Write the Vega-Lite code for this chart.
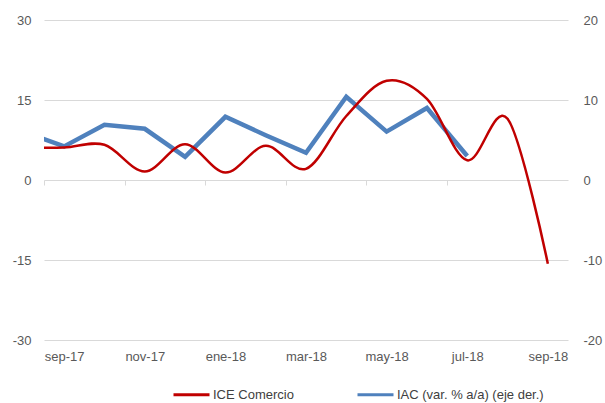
{
  "$schema": "https://vega.github.io/schema/vega-lite/v6.json",
  "width": 524,
  "height": 320,
  "autosize": "none",
  "padding": {"left": 44, "top": 20, "right": 37, "bottom": 63},
  "background": "white",
  "config": {
    "view": {"stroke": null},
    "font": "Liberation Sans",
    "axis": {"labelFont": "Liberation Sans", "labelFontSize": 13, "labelColor": "#595959"}
  },
  "data": {
    "values": [
      {"i": -1, "ice": 6.1, "iac": 6.0},
      {"i": 0, "ice": 6.1, "iac": 4.2},
      {"i": 1, "ice": 6.6, "iac": 6.9},
      {"i": 2, "ice": 1.6, "iac": 6.4},
      {"i": 3, "ice": 6.7, "iac": 2.9},
      {"i": 4, "ice": 1.4, "iac": 7.9},
      {"i": 5, "ice": 6.4, "iac": 5.6},
      {"i": 6, "ice": 2.1, "iac": 3.4},
      {"i": 7, "ice": 12.0, "iac": 10.4},
      {"i": 8, "ice": 18.6, "iac": 6.05},
      {"i": 9, "ice": 15.2, "iac": 9.0},
      {"i": 10, "ice": 3.7, "iac": 3.0},
      {"i": 11, "ice": 11.5, "iac": null},
      {"i": 12, "ice": -15.7, "iac": null}
    ]
  },
  "layer": [
    {
      "mark": {"type": "line", "clip": true, "strokeWidth": 4.5, "strokeJoin": "miter"},
      "encoding": {
        "x": {
          "field": "i", "type": "quantitative",
          "scale": {"domain": [-0.5, 12.5], "nice": false, "zero": false},
          "axis": {
            "orient": "bottom", "offset": -160, "title": null, "labels": false,
            "domain": false, "grid": false,
            "values": [-0.5, 1.5, 3.5, 5.5, 7.5, 9.5, 11.5],
            "ticks": true, "tickSize": 5, "tickColor": "#d9d9d9", "tickWidth": 1
          }
        },
        "y": {
          "field": "iac", "type": "quantitative",
          "scale": {"domain": [-20, 20], "nice": false, "zero": false},
          "axis": {
            "orient": "right", "title": null, "values": [-20, -10, 0, 10, 20],
            "labelExpr": "'' + datum.value",
            "grid": false, "domain": false, "ticks": false, "labelPadding": 15
          }
        },
        "color": {"datum": "IAC (var. % a/a) (eje der.)"}
      }
    },
    {
      "mark": {"type": "line", "clip": true, "strokeWidth": 2.5, "interpolate": "cardinal"},
      "encoding": {
        "x": {
          "field": "i", "type": "quantitative",
          "scale": {"domain": [-0.5, 12.5], "nice": false, "zero": false},
          "axis": {
            "orient": "bottom", "title": null, "domain": false, "ticks": false, "grid": false,
            "values": [0, 2, 4, 6, 8, 10, 12], "labelPadding": 10,
            "labelExpr": "['sep-17','oct-17','nov-17','dic-17','ene-18','feb-18','mar-18','abr-18','may-18','jun-18','jul-18','ago-18','sep-18'][datum.value]"
          }
        },
        "y": {
          "field": "ice", "type": "quantitative",
          "scale": {"domain": [-30, 30], "nice": false, "zero": false},
          "axis": {
            "orient": "left", "title": null, "values": [-30, -15, 0, 15, 30],
            "labelExpr": "'' + datum.value",
            "grid": true, "gridColor": "#d9d9d9", "gridWidth": 1,
            "domain": false, "ticks": false, "labelPadding": 13
          }
        },
        "color": {
          "datum": "ICE Comercio",
          "scale": {
            "domain": ["ICE Comercio", "IAC (var. % a/a) (eje der.)"],
            "range": ["#c00000", "#4f81bd"]
          },
          "legend": {
            "title": null, "orient": "none", "direction": "horizontal",
            "legendX": 128, "legendY": 355,
            "symbolType": "stroke", "symbolSize": 1296, "symbolStrokeWidth": 3,
            "labelFont": "Liberation Sans", "labelFontSize": 13, "labelColor": "#404040",
            "labelOffset": 2, "columnPadding": 57
          }
        }
      }
    }
  ],
  "resolve": {
    "scale": {"x": "independent", "y": "independent"},
    "axis": {"x": "independent", "y": "independent"}
  }
}
